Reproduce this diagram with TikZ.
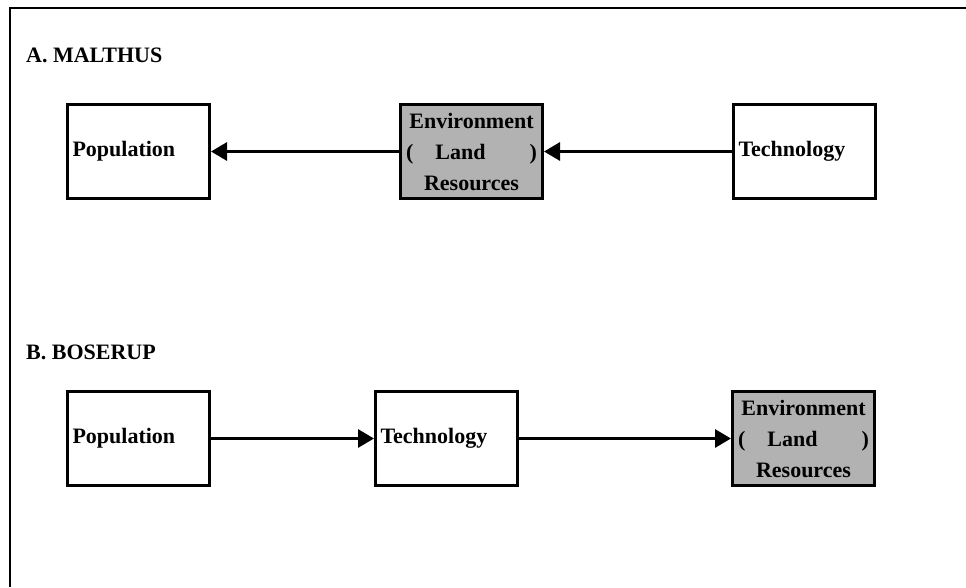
\documentclass[tikz,border=0pt]{standalone}
\usepackage{fontspec}
\setmainfont{Liberation Serif}
\usetikzlibrary{positioning,arrows.meta}

\tikzset{
  factor/.style={draw, line width=3pt, minimum width=142pt, minimum height=94pt,
    text width=132pt, inner xsep=5pt, align=left,
    font=\fontsize{22}{31}\selectfont\bfseries},
  shaded/.style={factor, fill=gray!60, align=center, inner xsep=1pt, text width=140pt},
  heading/.style={anchor=west, inner sep=0pt, font=\fontsize{22}{26}\selectfont\bfseries},
}

\begin{document}
\begin{tikzpicture}[x=1pt,y=-1pt,node distance=188pt,>={Triangle[length=16pt,width=18pt]}]
  \useasboundingbox (0,0) rectangle (966,587);
  \draw[line width=1.5pt] (10,587) -- (10,8) -- (966,8);

  % A. Malthus
  \node [heading] (malthus) at (26,55) {A. MALTHUS};
  \node [factor] (popA) at (138.5,151.5) {Population};
  \node [shaded] [right=of popA] (envA) {Environment\\(\quad Land\hspace{2em})\\Resources};
  \node [factor] [right=of envA] (techA) {Technology};

  \path[->, line width=3pt]
  (envA) edge (popA)
  (techA) edge (envA);

  % B. Boserup
  \node [heading] (boserup) at (26,352) {B. BOSERUP};
  \node [factor] (popB) at (138.5,438.5) {Population};
  \node [factor] [right=163pt of popB] (techB) {Technology};
  \node [shaded] [right=212pt of techB] (envB) {Environment\\(\quad Land\hspace{2em})\\Resources};

  \path[->, line width=3pt]
  (popB) edge (techB)
  (techB) edge (envB);
\end{tikzpicture}
\end{document}
